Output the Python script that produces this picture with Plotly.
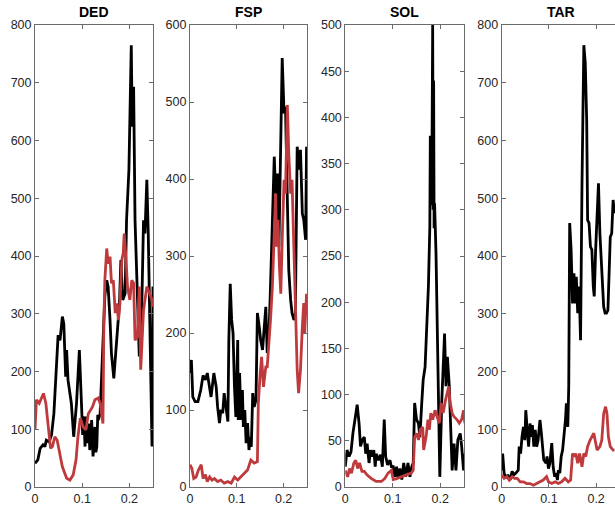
import plotly.graph_objects as go

# ---------------- data ----------------
panels = ["DED", "FSP", "SOL", "TAR"]
y_max = [800, 600, 500, 800]
y_step = [100, 100, 50, 100]

ded_bx = [0, .006, .011, .017, .021, .024, .030, .035, .040, .045, .049, .053, .058, .061, .065, .067, .070, .077, .082, .088,
          .094, .099, .101, .102, .104, .106, .108, .110, .111, .114, .116, .118, .120, .123, .125, .127, .129, .131, .133, .134,
          .138, .141, .145, .148, .152, .155, .159,
          .162, .167, .173, .179, .182, .186, .191, .194, .199, .204, .206, .209, .212, .216, .221, .226, .230, .233, .237, .240,
          .244, .248, .250]
ded_by = [41, 47, 67, 73, 70, 81, 78, 90, 127, 208, 263, 254, 295, 283, 191, 237, 185, 145, 87, 145,
          237, 133, 90, 122, 115, 70, 122, 100, 76, 110, 64, 80, 116, 53, 95, 104, 60, 70, 125, 116,
          127, 185, 249, 330, 358, 347, 289,
          231, 188, 260, 318, 393, 324, 335, 462, 549, 765, 624, 693, 462, 347, 226, 301, 462, 439, 532, 439,
          231, 70, 347]
ded_rx = [0, .003, .009, .014, .018, .023, .028, .033, .037, .042, .047, .052, .058, .067, .074, .081, .087, .091, .096, .102,
          .108, .113, .118, .122, .127, .134, .138, .144, .146, .148, .152, .155, .159, .162, .166, .170, .173, .177, .180, .184,
          .187, .189, .193, .196, .201, .205, .209, .212, .217, .221, .224, .230, .237, .243, .248, .250]
ded_ry = [99, 151, 145, 156, 162, 145, 99, 67, 70, 87, 81, 58, 35, 15, 12, 21, 47, 87, 119, 104,
          99, 127, 133, 139, 151, 154, 145, 110, 289, 358, 413, 387, 399, 353, 358, 301, 318, 289, 318, 393,
          405, 439, 393, 347, 324, 358, 353, 254, 260, 347, 203, 306, 347, 335, 324, 312]

fsp_bx = [0, .003, .006, .011, .017, .023, .028, .033, .037, .042, .045, .051, .056, .059, .063, .066, .070, .073, .077, .081,
          .083, .086, .089, .092, .095, .098, .102, .103, .106, .109, .112, .114, .117, .120, .123, .126, .129, .131, .134, .137,
          .141, .144, .148, .151, .155, .158, .162, .165, .169, .172, .176, .180, .183, .187, .190, .194, .197, .201, .204, .208,
          .211, .215, .218, .222, .225, .229, .233, .236, .240, .243, .247, .249]
fsp_by = [148, 165, 117, 111, 111, 126, 145, 139, 148, 130, 117, 148, 130, 104, 83, 100, 96, 122, 104, 85,
          191, 264, 217, 200, 130, 91, 191, 87, 148, 87, 126, 78, 100, 57, 83, 48, 65, 52, 122, 104,
          113, 226, 208, 191, 178, 200, 234, 174, 204, 260, 347, 429, 381, 407, 312, 477, 557, 485, 494, 373,
          282, 243, 226, 217, 221, 442, 412, 438, 355, 347, 321, 442]
fsp_rx = [0, .004, .008, .013, .018, .024, .028, .033, .037, .042, .047, .052, .059, .066, .073, .081, .088, .095, .102, .109,
          .116, .123, .130, .137, .144, .146, .150, .153, .157, .162, .165, .169, .172, .176, .180, .183, .185, .188, .191, .194,
          .197, .201, .204, .208, .211, .215, .218, .222, .225, .229, .232, .236, .240, .243, .245, .249]
fsp_ry = [29, 24, 11, 13, 22, 29, 11, 16, 7, 13, 9, 11, 7, 9, 5, 7, 5, 13, 9, 13,
          18, 22, 35, 31, 33, 109, 148, 169, 130, 156, 156, 187, 217, 260, 329, 381, 312, 347, 286, 251,
          321, 399, 381, 496, 433, 381, 399, 295, 217, 152, 122, 152, 208, 239, 200, 251]

sol_bx = [0, .0035, .008, .012, .016, .020, .025, .029, .032, .036, .040, .043, .046, .050, .053, .057, .060, .063, .065, .070,
          .074, .078, .082, .085, .089, .094, .097, .101, .104, .108, .111, .115, .119, .123, .127, .132, .136, .140, .143, .146,
          .150, .154, .157, .161, .164, .168, .171, .175, .178, .179, .180, .181, .182, .183, .184, .185, .186, .187, .188, .191,
          .194, .196, .199, .203,
          .206, .209, .212, .215, .219, .222, .225, .229, .233, .237, .242, .245, .249, .251]
sol_by = [22, 40, 33, 38, 58, 73, 89, 69, 44, 51, 54, 36, 47, 26, 40, 33, 40, 22, 36, 29,
          35, 22, 73, 33, 24, 29, 22, 22, 11, 22, 9, 20, 8, 26, 11, 26, 11, 22, 26, 91,
          73, 69, 54, 91, 116, 130, 163, 217, 282, 380, 305, 380, 310, 440, 500, 300, 440, 280, 307, 253,
          145, 73, 11, 91,
          123, 166, 109, 141, 109, 54, 18, 47, 18, 51, 58, 44, 18, 36]
sol_rx = [0, .005, .009, .013, .018, .022, .026, .030, .035, .040, .046, .055, .065, .076, .083, .090, .097, .101, .108, .118,
          .129, .139, .143, .146, .150, .154, .158, .163, .165, .170, .174, .177, .180, .184, .189, .194, .198, .202, .206, .211,
          .215, .218, .220, .225, .229, .235, .240, .245, .249, .252]
sol_ry = [18, 11, 20, 15, 26, 29, 20, 26, 17, 17, 13, 9, 6, 6, 9, 15, 18, 8, 9, 11,
          13, 15, 18, 54, 58, 51, 62, 65, 40, 54, 73, 62, 80, 73, 83, 76, 69, 91, 80, 94,
          105, 109, 94, 80, 76, 73, 69, 73, 83, 69]

tar_bx = [0, .002, .005, .009, .013, .018, .022, .026, .030, .035, .037, .040, .043, .046, .049, .051, .054, .057, .060, .063,
          .065, .068, .071, .074, .077, .081, .084, .087, .089, .094, .096, .099, .102, .106, .109, .112, .115, .118, .120, .123,
          .126, .129, .132, .135, .137, .140, .142, .144, .147, .150, .153, .156, .158, .161, .164, .167, .170, .172, .174, .177,
          .180, .182, .185, .188, .191, .194, .196, .199, .202, .205, .208, .211, .213, .216, .219, .222, .225, .227, .230, .233,
          .236, .239]
tar_by = [29, 58, 24, 15, 21, 12, 27, 21, 24, 29, 70, 58, 87, 104, 81, 133, 99, 70, 110, 87,
          107, 70, 99, 70, 81, 116, 93, 70, 47, 41, 53, 32, 41, 76, 35, 18, 24, 12, 29, 24,
          53, 64, 87, 116, 145, 104, 174, 457, 411, 318, 370, 318, 364, 301, 347, 254, 520, 722, 765, 734,
          636, 462, 457, 416, 411, 347, 330, 411, 474, 526, 439, 393, 370, 312, 301, 301, 306, 358, 433, 439,
          497, 474]
tar_rx = [0, .005, .011, .016, .022, .027, .033, .039, .046, .053, .060, .067, .074, .081, .088, .095, .099, .106, .113, .120,
          .127, .134, .141, .146, .150, .154, .157, .161, .165, .170, .174, .178, .182, .187, .191, .195, .198, .202, .208, .212,
          .216, .220, .223, .226, .230, .236, .239]
tar_ry = [21, 15, 18, 12, 18, 15, 15, 9, 9, 6, 6, 3, 6, 9, 12, 18, 9, 6, 9, 6,
          9, 15, 9, 12, 58, 53, 58, 41, 58, 35, 58, 53, 70, 81, 87, 93, 81, 64, 70, 81,
          127, 139, 127, 87, 70, 64, 64]

black_series = [(ded_bx, ded_by), (fsp_bx, fsp_by), (sol_bx, sol_by), (tar_bx, tar_by)]
red_series = [(ded_rx, ded_ry), (fsp_rx, fsp_ry), (sol_rx, sol_ry), (tar_rx, tar_ry)]

x_ranges = [[0, 0.25], [0, 0.25], [0, 0.25], [0, 0.240]]
domains = [[0, 0.2034], [0.2672, 0.469], [0.535, 0.7397], [0.8047, 1.0]]
title_pos = [0.5, 0.5, 0.5, 0.523]

BLACK = "#000000"
RED = "#BF3A3D"
AXC = "#6b6b6b"
FONT = "Liberation Sans, Arial, Helvetica, sans-serif"

fig = go.Figure()
for i in range(4):
    xa = "x" if i == 0 else f"x{i+1}"
    ya = "y" if i == 0 else f"y{i+1}"
    bx, by = black_series[i]
    rx, ry = red_series[i]
    fig.add_trace(go.Scatter(x=bx, y=by, mode="lines", line=dict(color=BLACK, width=2.8),
                             xaxis=xa, yaxis=ya, showlegend=False, hoverinfo="skip"))
    fig.add_trace(go.Scatter(x=rx, y=ry, mode="lines", line=dict(color=RED, width=2.8),
                             xaxis=xa, yaxis=ya, showlegend=False, hoverinfo="skip"))

for i in range(4):
    sfx = "" if i == 0 else str(i + 1)
    common = dict(showline=True, linecolor=AXC, linewidth=1, ticks="inside", ticklen=4,
                  tickcolor=AXC, tickwidth=1, showgrid=False, zeroline=False,
                  tickfont=dict(family=FONT, size=12.5, color="#262626"))
    fig.layout["xaxis" + sfx] = dict(
        common, domain=domains[i], range=x_ranges[i], anchor="y" + sfx,
        tickvals=[0, 0.1, 0.2], ticktext=["0", "0.1", "0.2"], mirror="ticks")
    fig.layout["yaxis" + sfx] = dict(
        common, domain=[0, 1], range=[0, y_max[i]], anchor="x" + sfx,
        tickvals=list(range(0, y_max[i] + 1, y_step[i])),
        mirror="ticks" if i < 3 else False)
    fig.add_annotation(text=f"<b>{panels[i]}</b>", x=title_pos[i], y=1,
                       xref=f"x{sfx} domain", yref=f"y{sfx} domain",
                       xanchor="center", yanchor="bottom", yshift=3, showarrow=False,
                       font=dict(family=FONT, size=14, color="#000000"))

fig.update_layout(width=615, height=508, margin=dict(l=35, r=0, t=25, b=21),
                  paper_bgcolor="white", plot_bgcolor="white")

fig.write_html("out.html")
